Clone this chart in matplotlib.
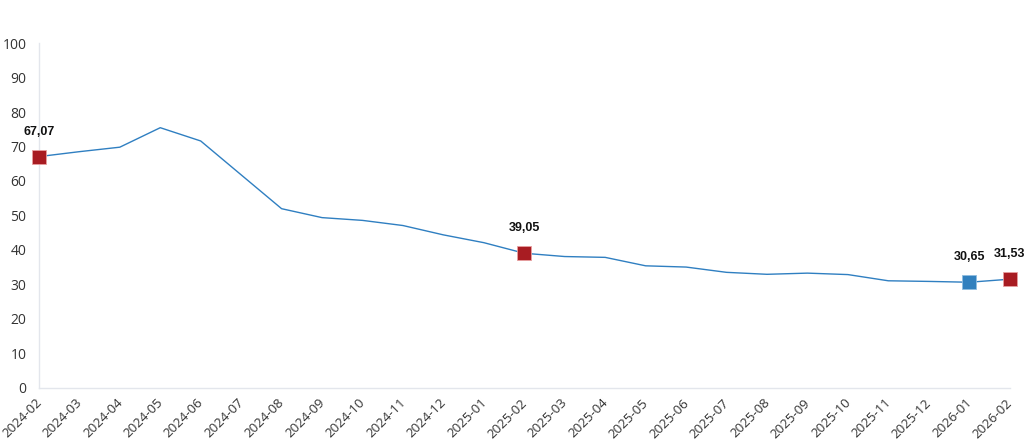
import matplotlib as mpl
mpl.use('Agg')
import matplotlib.pyplot as plt
import matplotlib.transforms as mtransforms

months = ['2024-02', '2024-03', '2024-04', '2024-05', '2024-06', '2024-07', '2024-08',
          '2024-09', '2024-10', '2024-11', '2024-12', '2025-01', '2025-02', '2025-03',
          '2025-04', '2025-05', '2025-06', '2025-07', '2025-08', '2025-09', '2025-10',
          '2025-11', '2025-12', '2026-01', '2026-02']
values = [67.07, 68.50, 69.80, 75.45, 71.60, 61.78, 51.97, 49.38, 48.58, 47.09, 44.38,
          42.12, 39.05, 38.10, 37.86, 35.41, 35.05, 33.52, 32.95, 33.29, 32.87, 31.07,
          30.89, 30.65, 31.53]
# highlighted points: index -> colour
highlight = {0: '#a81c22', 12: '#a81c22', 23: '#3180be', 24: '#a81c22'}
yticks = [0, 10, 20, 30, 40, 50, 60, 70, 80, 90, 100]

plt.rcParams['font.family'] = ['Open Sans', 'DejaVu Sans']

fig = plt.figure(figsize=(10.24, 4.48), dpi=100)
ax = fig.add_axes([0.038, 0.134, 0.948, 0.770])

x = list(range(len(months)))
ax.plot(x, values, color='#2f7fc1', linewidth=1.0, zorder=2)

for i, col in highlight.items():
    ax.plot(x[i], values[i], marker='s', markersize=10, color=col,
            markeredgecolor='#e8a0a0' if col != '#3180be' else '#8fbde0',
            markeredgewidth=0.6, linestyle='none', clip_on=False, zorder=3)
    lbl = ('%.2f' % values[i]).replace('.', ',')
    ax.annotate(lbl, (x[i], values[i]), xytext=(0, 18), textcoords='offset points',
                ha='center', va='center', fontsize=9, fontweight='bold',
                family=['Liberation Sans', 'DejaVu Sans'], color='#111111')

ax.set_xlim(0, len(months) - 1)
ax.set_ylim(0, 100)
ax.set_yticks(yticks)
ax.set_xticks(x)
ax.set_xticklabels(months, rotation=45, ha='right', rotation_mode='anchor')
ax.tick_params(axis='both', length=0, labelsize=9.5, colors='#333333')
ax.tick_params(axis='x', pad=6)
ax.tick_params(axis='y', pad=9, labelsize=10)

# nudge x labels a little left
shift = mtransforms.ScaledTranslation(-4 / 100, 0, fig.dpi_scale_trans)
for lab in ax.get_xticklabels():
    lab.set_transform(lab.get_transform() + shift)

for s in ['top', 'right']:
    ax.spines[s].set_visible(False)
ax.spines['left'].set_color('#e3e6ec')
ax.spines['bottom'].set_color('#e3e6ec')
ax.spines['left'].set_linewidth(1.0)
ax.spines['bottom'].set_linewidth(1.0)

plt.savefig('out.png', dpi=100)
